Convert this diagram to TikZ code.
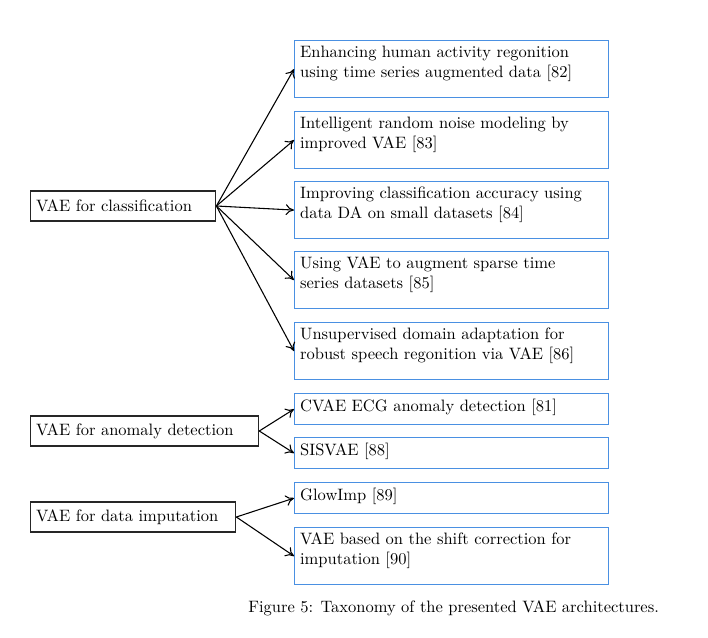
\documentclass[tikz,border=0pt]{standalone}
\usetikzlibrary{arrows.meta}
\definecolor{boxblue}{RGB}{74,144,226}
\begin{document}
\begin{tikzpicture}[x=0.6061pt,y=-0.6061pt,
  rbox/.style={draw=boxblue,line width=0.8pt,inner sep=3.33pt,anchor=north west},
  lbox/.style={draw=black!85,line width=0.8pt,inner sep=3.33pt,anchor=west,minimum height=18.2pt,align=left,text width=#1},
  conn/.style={-{To[length=5pt,width=6.5pt]},line width=0.65pt}]
\useasboundingbox (0,0) rectangle (708,638);
\newcommand{\twoline}[1]{\parbox[t][27.8pt][t]{183.6pt}{\raggedright #1}}
\newcommand{\oneline}[1]{\parbox[t][12.1pt][t]{183.6pt}{\raggedright #1}}
% left nodes
\node[lbox=105.5pt] (cls) at (30,206) {VAE for classification};
\node[lbox=131.5pt] (ano) at (30,431) {VAE for anomaly detection};
\node[lbox=117.6pt] (imp) at (30,517) {VAE for data imputation};
% right nodes
\node[rbox] (r1) at (294,40) {\twoline{Enhancing human activity regonition\\using time series augmented data [82]}};
\node[rbox] (r2) at (294,111) {\twoline{Intelligent random noise modeling by\\improved VAE [83]}};
\node[rbox] (r3) at (294,181) {\twoline{Improving classification accuracy using\\data DA on small datasets [84]}};
\node[rbox] (r4) at (294,251) {\twoline{Using VAE to augment sparse time\\series datasets [85]}};
\node[rbox] (r5) at (294,322) {\twoline{Unsupervised domain adaptation for\\robust speech regonition via VAE [86]}};
\node[rbox] (r6) at (294,393) {\oneline{CVAE ECG anomaly detection [81]}};
\node[rbox] (r7) at (294,437) {\oneline{SISVAE [88]}};
\node[rbox] (r8) at (294,482) {\oneline{GlowImp [89]}};
\node[rbox] (r9) at (294,527) {\twoline{VAE based on the shift correction for\\imputation [90]}};
% connectors
\foreach \t in {r1,r2,r3,r4,r5} \draw[conn] (cls.east) -- (\t.west);
\foreach \t in {r6,r7} \draw[conn] (ano.east) -- (\t.west);
\foreach \t in {r8,r9} \draw[conn] (imp.east) -- (\t.west);
% caption
\node[anchor=base west,inner sep=0pt] (cap) at (248,612) {Figure 5: Taxonomy of the presented VAE architectures.};
\end{tikzpicture}
\end{document}
